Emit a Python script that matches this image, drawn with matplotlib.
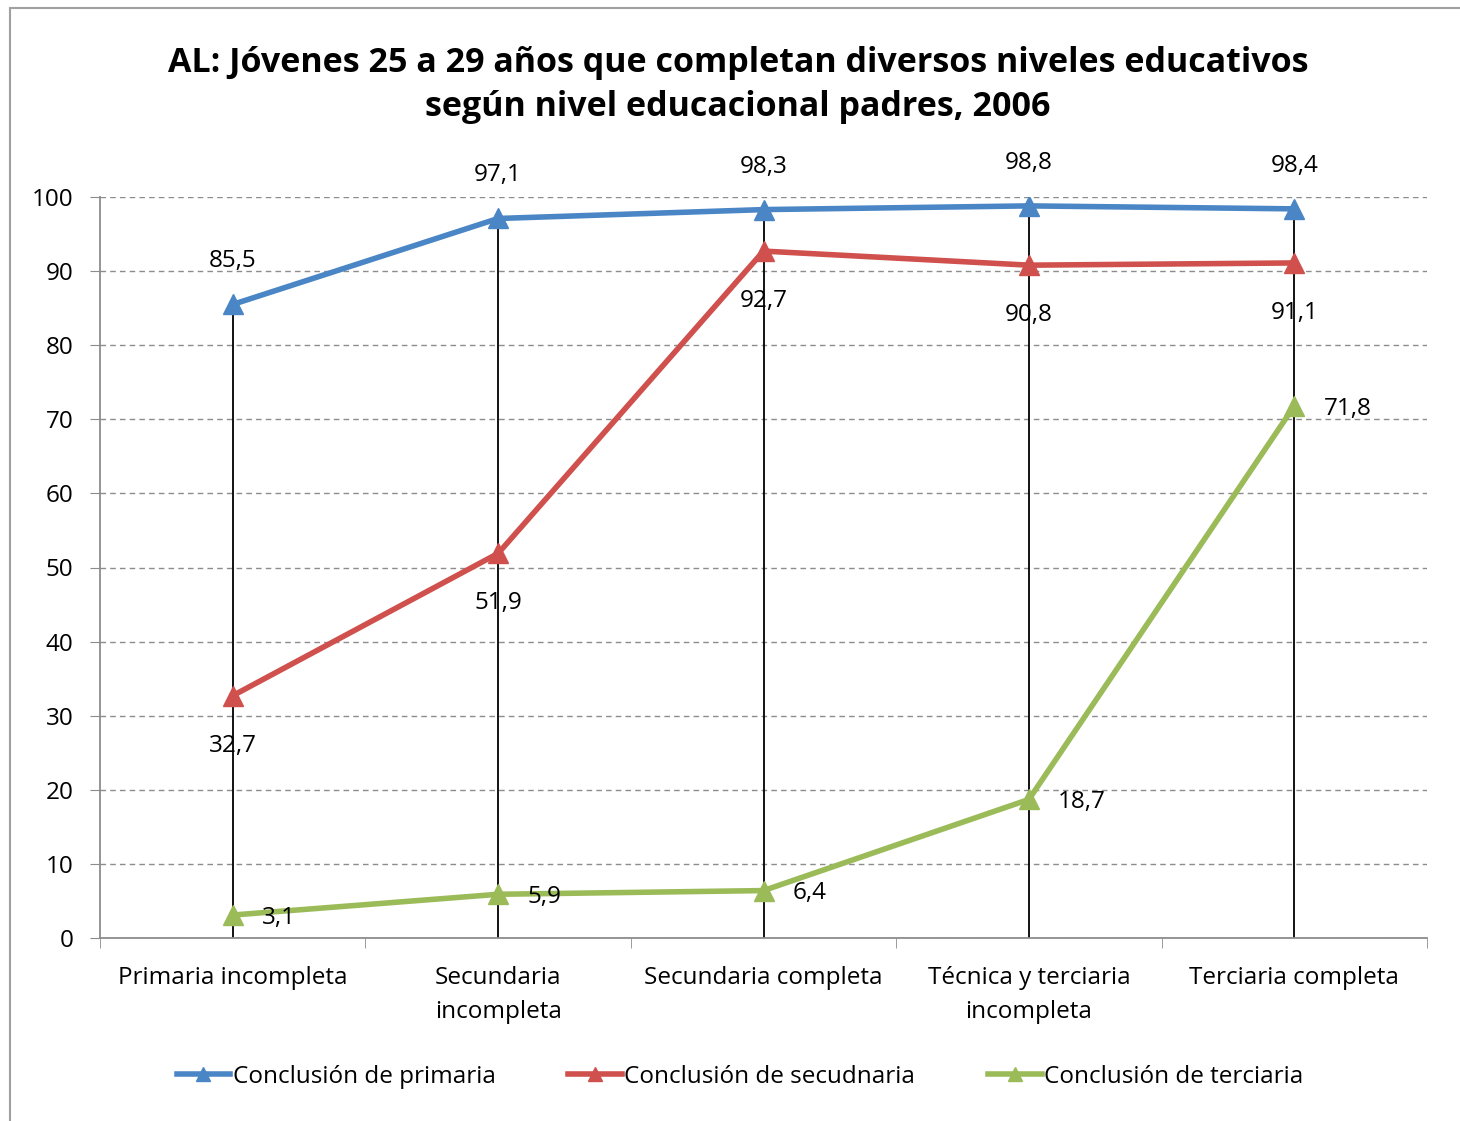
import matplotlib.pyplot as plt
from matplotlib.patches import Rectangle

plt.rcParams['font.family'] = ['Open Sans', 'DejaVu Sans']

categories = ["Primaria incompleta", "Secundaria\nincompleta", "Secundaria completa",
              "Técnica y terciaria\nincompleta", "Terciaria completa"]
primaria = [85.5, 97.1, 98.3, 98.8, 98.4]
secundaria = [32.7, 51.9, 92.7, 90.8, 91.1]
terciaria = [3.1, 5.9, 6.4, 18.7, 71.8]
series_names = ["Conclusión de primaria", "Conclusión de secudnaria", "Conclusión de terciaria"]
colors = ["#4a86c5", "#cf504c", "#9bbb59"]

fig = plt.figure(figsize=(14.6, 11.21), dpi=100)
fig.patches.append(Rectangle((10 / 1460, -0.01), 1.02, 1 - 8 / 1121 + 0.01, transform=fig.transFigure,
                             fill=False, edgecolor="#a0a0a0", lw=1.5))
ax = fig.add_axes([100 / 1460, 1 - 938 / 1121, 1327 / 1460, 741 / 1121])

x = list(range(len(categories)))

# drop lines from highest value down to zero
for i in x:
    top = max(primaria[i], secundaria[i], terciaria[i])
    ax.vlines(i, 0, top, color="black", lw=1.3, zorder=2)

for vals, name, c in zip([primaria, secundaria, terciaria], series_names, colors):
    ax.plot(x, vals, color=c, lw=4, marker="^", markersize=15, markeredgecolor=c,
            label=name, zorder=3)

fs = 17.5
for i in x:
    ax.annotate(f"{primaria[i]:.1f}".replace(".", ","), (i, primaria[i]), xytext=(0, 31),
                textcoords="offset points", ha="center", va="center", fontsize=fs)
    ax.annotate(f"{secundaria[i]:.1f}".replace(".", ","), (i, secundaria[i]), xytext=(0, -36),
                textcoords="offset points", ha="center", va="center", fontsize=fs)
    ax.annotate(f"{terciaria[i]:.1f}".replace(".", ","), (i, terciaria[i]), xytext=(21, -2),
                textcoords="offset points", ha="left", va="center", fontsize=fs)

ax.set_xlim(-0.5, 4.5)
ax.set_ylim(0, 100)
ax.set_yticks(range(0, 101, 10))
ax.yaxis.grid(True, linestyle=(0, (4, 3)), color="#8c8c8c", lw=1)
ax.set_axisbelow(True)
ax.set_xticks(x)
ax.set_xticklabels(categories, fontsize=fs, linespacing=1.55)
ax.set_xticks([-0.5, 0.5, 1.5, 2.5, 3.5, 4.5], minor=True)
ax.tick_params(axis="x", which="major", length=0, pad=20)
ax.tick_params(axis="x", which="minor", length=7, color="#8c8c8c", direction="out")
ax.tick_params(axis="y", labelsize=fs, length=7, color="#8c8c8c", pad=12)
for s in ["top", "right"]:
    ax.spines[s].set_visible(False)
ax.spines["left"].set_color("#8c8c8c")
ax.spines["bottom"].set_color("#8c8c8c")
ax.spines["left"].set_linewidth(1.3)
ax.spines["bottom"].set_linewidth(1.3)

fig.text(738 / 1460, 1 - 85 / 1121,
         "AL: Jóvenes 25 a 29 años que completan diversos niveles educativos\nsegún nivel educacional padres, 2006",
         ha="center", va="center", fontsize=24.5, fontweight="bold", linespacing=1.35)

fig.legend(loc="center", bbox_to_anchor=(740 / 1460, 1 - 1077 / 1121), ncol=3, frameon=False,
           fontsize=fs, handlelength=2.2, handletextpad=0.1, columnspacing=3, markerscale=0.7)

fig.savefig("out.png", dpi=100)
